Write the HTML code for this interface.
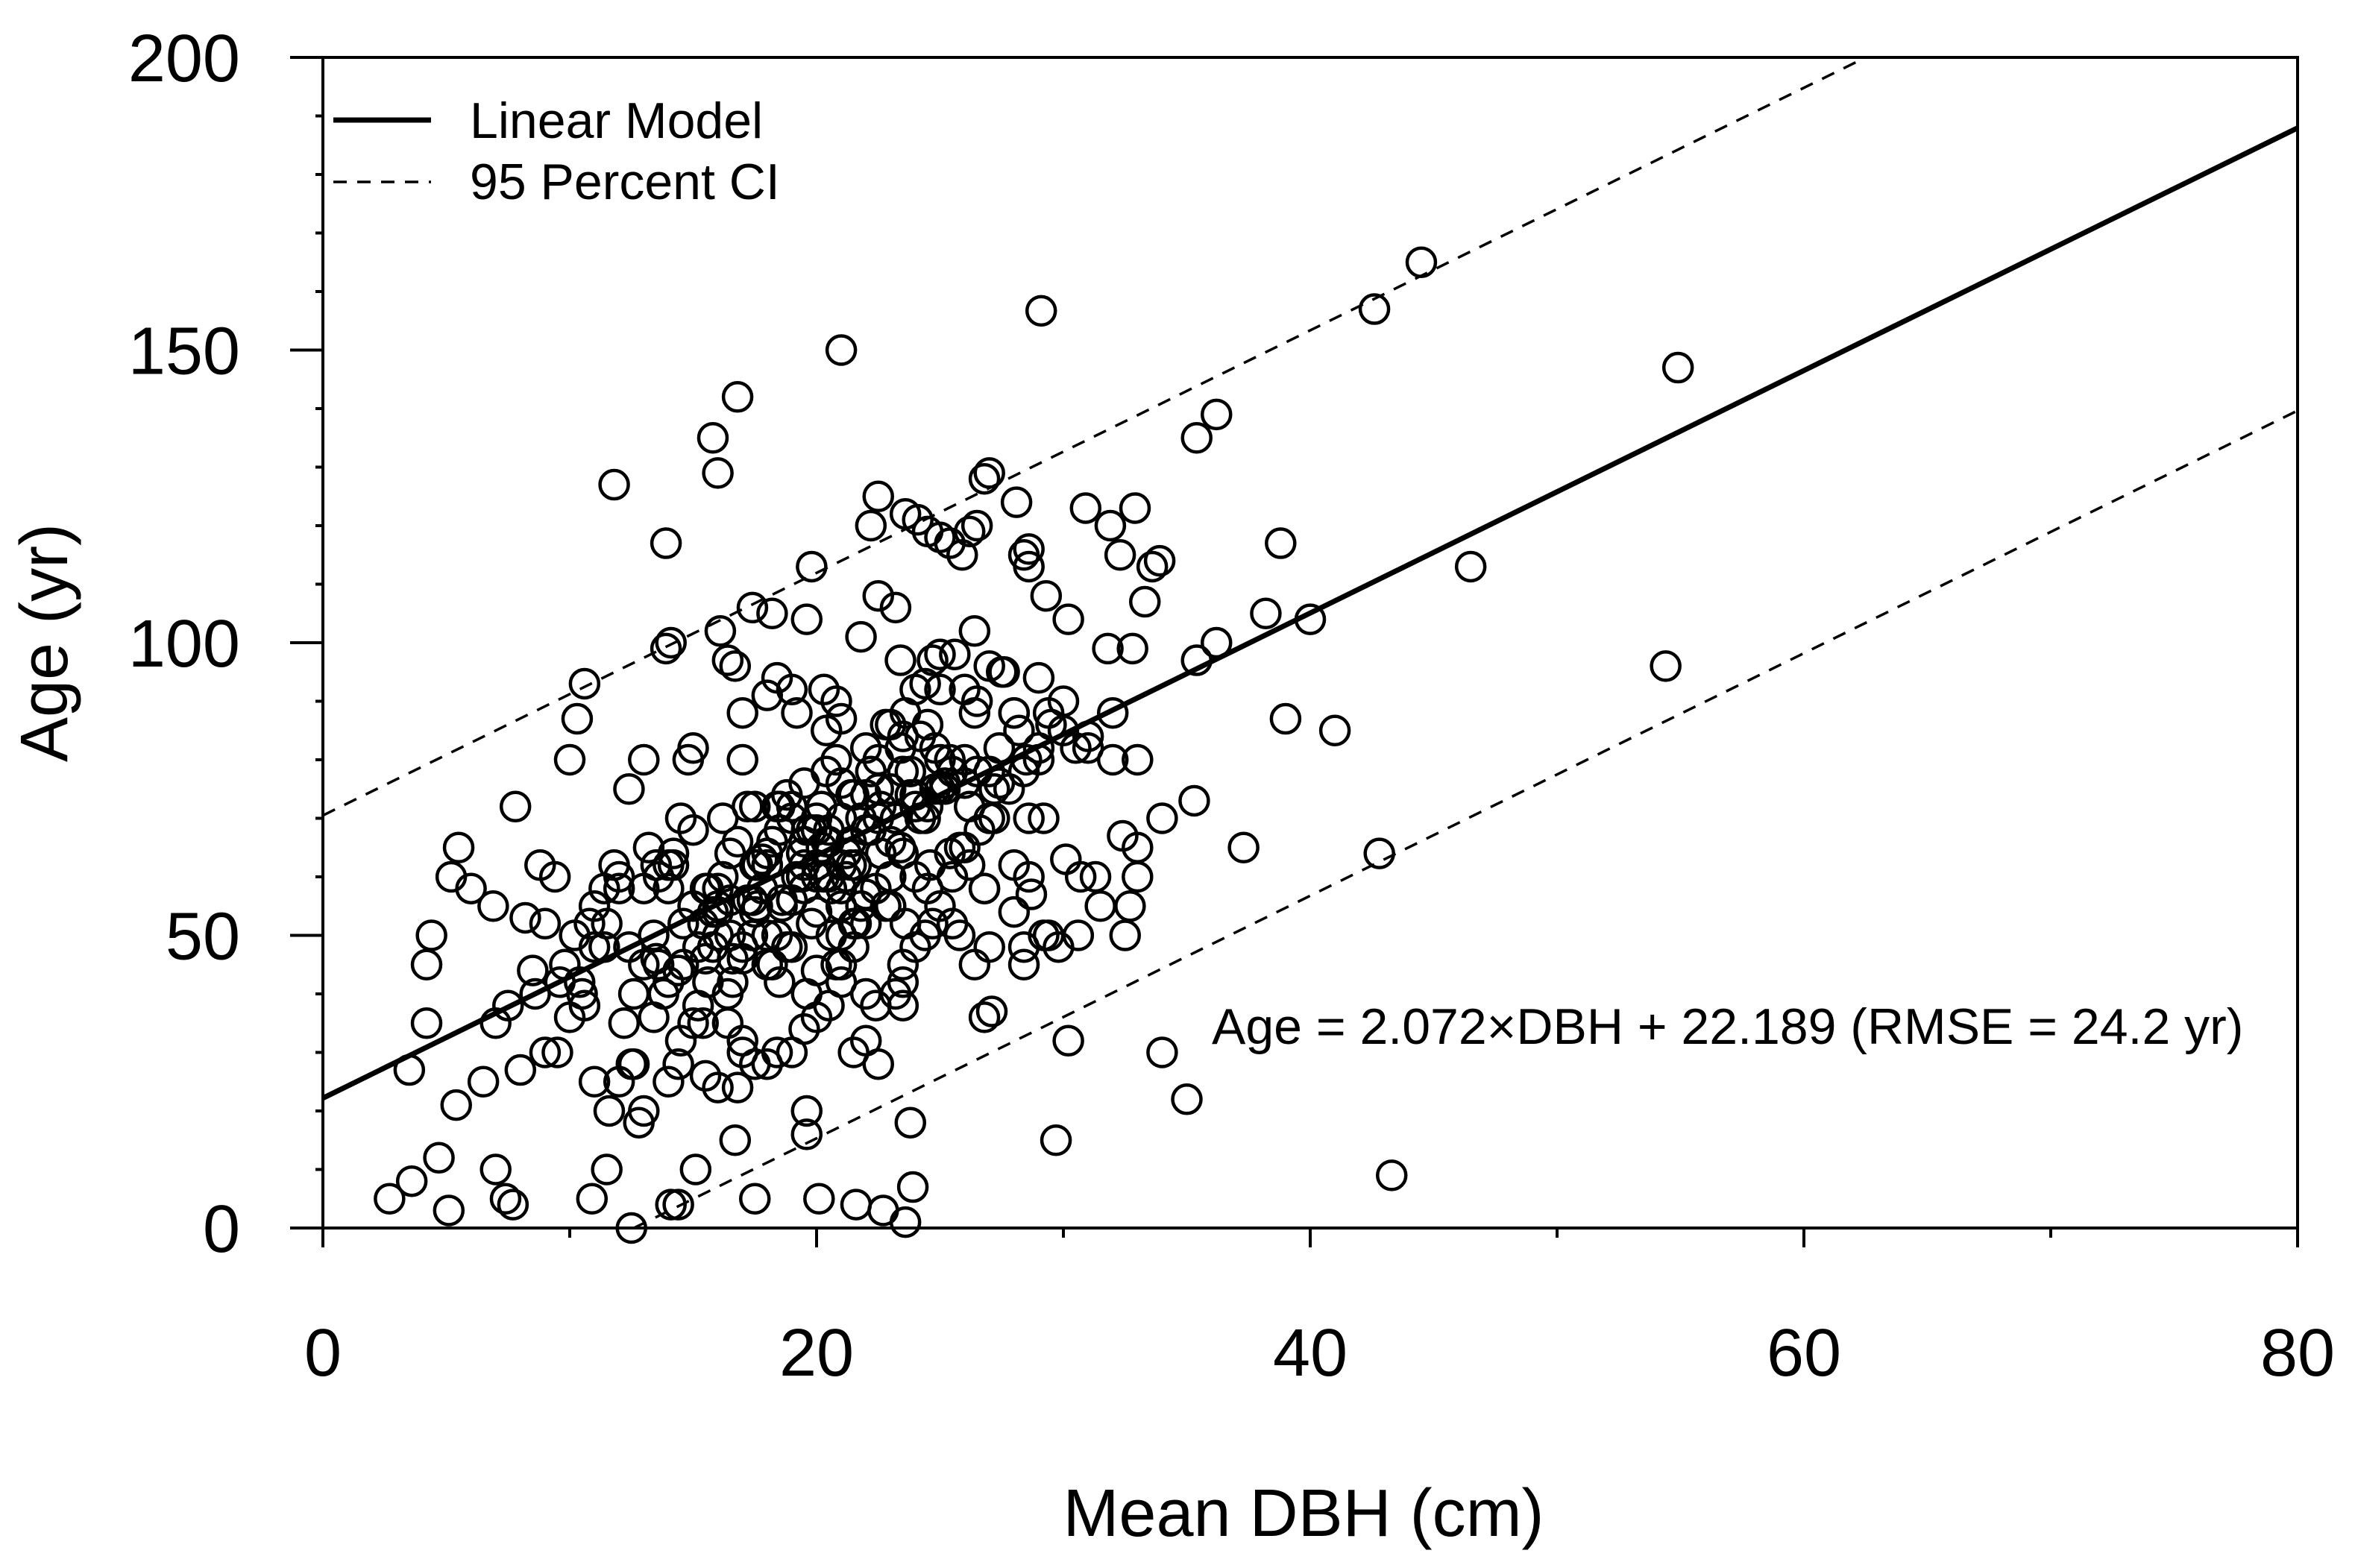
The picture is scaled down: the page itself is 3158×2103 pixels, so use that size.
<!DOCTYPE html>
<html><head><meta charset="utf-8"><style>
html,body{margin:0;padding:0;background:#fff;}
svg{display:block;font-family:"Liberation Sans",Arial,sans-serif;}
</style></head><body>
<svg id="chart" width="3158" height="2103" viewBox="0 0 3158 2103" xmlns="http://www.w3.org/2000/svg">
<rect width="3158" height="2103" fill="#fff"/>
<g id="marks"></g>
<g id="axes"></g>
</svg>
<script>
const dbh = [29.1,44.5,42.6,54.9,21.0,46.5,54.4,40.0,41.0,42.8,43.3,29.7,37.3,38.8,38.2,39.0,36.2,35.4,36.2,35.4,35.3,16.8,15.8,16.0,11.8,13.9,10.6,10.3,10.0,7.8,5.5,2.7,3.6,3.5,5.1,4.7,5.4,4.2,4.2,4.4,5.2,7.0,7.4,7.7,10.9,11.5,12.5,14.1,14.4,17.5,20.1,21.6,22.7,23.6,23.9,23.8,19.6,19.6,15.1,16.7,28.6,28.7,28.4,29.2,30.6,30.1,30.7,31.3,32.7,33.0,32.4,26.8,27.1,24.7,23.2,23.5,26.4,30.9,32.9,32.3,33.6,33.9,33.3,31.9,31.8,32.8,30.2,29.3,28.4,28.6,28.6,28.1,26.8,27.0,22.5,22.2,24.1,23.6,25.0,24.5,25.9,25.4,26.2,26.5,22.5,23.4,23.2,24.7,24.4,19.6,19.8,21.8,18.2,16.1,14.1,13.9,16.4,16.7,17.4,18.4,18.0,20.8,20.3,21.0,21.0,20.3,
6.5,6.9,7.0,8.0,8.2,8.6,9.0,9.4,9.8,10.2,10.6,11.0,11.4,11.8,12.2,12.6,13.0,13.4,13.8,14.2,14.6,15.0,15.4,15.8,16.2,16.6,17.0,17.4,17.8,18.2,18.6,19.0,19.4,19.8,20.2,20.6,21.0,21.4,21.8,22.2,22.6,23.0,23.4,23.8,24.2,24.6,25.0,25.4,25.8,26.2,26.6,27.0,27.4,27.8,28.2,28.6,29.0,29.4,29.8,30.2,
6.0,7.5,8.8,9.6,10.8,11.6,12.4,13.2,14.0,14.8,15.6,16.4,17.2,18.0,18.8,19.6,20.4,21.2,22.0,22.8,23.6,24.4,25.2,26.0,26.8,27.6,28.4,29.2,30.0,31.0,32.0,33.0,34.0,35.0,
12.0,12.8,13.6,14.4,15.2,16.0,16.8,17.6,18.4,19.2,20.0,20.8,21.6,22.4,23.2,24.0,24.8,25.6,26.4,27.2,28.0,
13.0,14.0,15.0,16.0,17.0,18.0,19.0,20.0,21.0,22.0,23.0,24.0,25.0,26.0,27.0,28.0,29.0,30.0,31.0,32.0,33.0,34.0,
17.5,18.5,19.5,20.5,21.5,22.5,23.5,24.5,25.5,26.5,19.0,20.0,21.0,22.0,23.0,24.0,25.0,18.0,19.5,21.5,23.5,
8.5,9.5,10.5,11.5,12.5,13.5,14.5,15.5,16.5,17.5,18.5,19.5,20.5,21.5,22.5,23.5,
9.0,10.0,11.0,12.0,13.0,14.0,15.0,16.0,17.0,18.0,19.0,20.0,21.0,22.0,23.0,
11.0,12.0,13.0,14.0,15.0,16.0,17.0,18.0,19.0,20.0,21.0,22.0,
15.5,16.5,17.5,18.5,19.5,20.5,21.5,22.5,23.5,24.5,25.5,26.5,27.5,28.5,29.5,30.5,31.5,32.5,
13.5,14.5,15.5,16.5,17.5,18.5,19.5,20.5,21.5,22.5,23.5,24.5,25.5,
14.2,15.2,16.2,17.2,18.2,19.2,20.2,21.2,22.2,23.2,24.2,25.2,26.2,27.2,
15.8,16.8,17.8,18.8,19.8,20.8,21.8,22.8,23.8,24.8,25.8,26.8,
17.0,18.0,19.0,20.0,21.0,22.0,23.0,24.0,25.0,26.0,27.0,28.0,
12.6,13.6,14.6,15.6,16.6,17.6,18.6,19.6,20.6,21.6,22.6,23.6,
18.4,19.4,20.4,21.4,22.4,23.4,24.4,25.4,26.4,27.4,28.4,29.4,
10.4,11.4,12.4,13.4,14.4,15.4,16.4,17.4,18.4,19.4,20.4,21.4,
16.0,17.0,18.0,19.0,20.0,21.0,22.0,23.0,24.0,25.0,26.0,27.0,28.0,29.0,30.0,31.0];
const age = [156.7,165,157,147,150,113,96,104,85,64,9,15,65,117,105,87,139,135,100,97,73,142,135,129,127,117,93,87,80,72,65,5,8,27,3,12,21,35,45,50,60,10,5,4,5,10,0,4,4,5,5,4,3,1,7,18,20,16,10,15,60,57,48,50,50,63,60,60,55,60,67,36,37,52,40,42,45,123,123,115,113,114,107,120,99,99,104,108,115,113,116,124,128,129,125,120,121,122,118,119,115,117,119,120,108,97,106,97,93,104,113,101,105,102,100,99,97,96,106,94,91,90,92,87,
42,60,25,55,35,27,53,40,30,60,45,50,38,55,48,62,35,28,58,50,40,62,45,55,35,48,60,42,30,50,63,45,55,48,60,52,65,58,70,62,55,68,72,60,65,78,70,62,75,80,65,72,68,78,82,75,85,70,80,88,
48,32,58,38,62,42,52,20,75,65,25,80,42,35,72,28,48,40,85,60,32,55,88,50,75,92,58,95,78,70,85,82,88,80,
30,22,25,18,45,28,38,50,24,55,30,88,60,45,52,38,70,60,75,98,102,
75,62,80,58,82,55,88,62,92,70,58,82,75,92,98,65,96,88,82,90,84,80,
65,70,72,68,62,66,74,70,64,72,60,78,72,54,50,57,60,48,55,62,58,
48,38,44,30,40,52,28,46,32,26,50,28,42,34,38,30,
28,45,52,36,25,60,20,42,35,24,32,45,30,36,55,
40,55,48,58,45,62,68,54,48,50,56,44,
45,52,58,64,54,72,76,68,74,80,84,86,78,90,95,80,86,82,
55,50,62,70,46,56,62,72,66,60,52,75,78,
58,52,64,48,70,56,66,60,72,64,78,70,84,76,
62,70,54,66,58,74,68,80,70,86,74,82,
50,58,46,64,56,68,62,74,66,72,80,76,
48,54,40,60,52,58,46,62,56,68,50,62,
64,52,72,60,78,66,58,82,70,64,88,76,
45,50,42,58,48,36,44,52,40,56,50,64,
66,74,58,80,64,70,62,76,68,86,74,92,80,70,88,94];

const X0=433, X1=3081, Y0=1647, Y1=77;
const xMax=80, yMax=200;
function sx(v){return X0+(X1-X0)*v/xMax;}
function sy(v){return Y0-(Y0-Y1)*v/yMax;}
const NS="http://www.w3.org/2000/svg";
function mk(tag,attrs,parent){const e=document.createElementNS(NS,tag);for(const k in attrs)e.setAttribute(k,attrs[k]);parent.appendChild(e);return e;}

const marks=document.getElementById('marks');
const axes=document.getElementById('axes');
const n=Math.min(dbh.length,age.length);
for(let i=0;i<n;i++){
  const c=mk('circle',{cx:sx(dbh[i]),cy:sy(age[i]),r:19,fill:'none',stroke:'#000','stroke-width':4.5},marks);
  
  
}
const slope=2.072, icpt=22.189, ci=48.3;
function lineSeg(b,dash,w,name){
  let xa=0, xb=80;
  const xTop=(200-b)/slope; if(xTop<xb) xb=xTop;
  const xBot=(0-b)/slope; if(xBot>xa) xa=xBot;
  const l=mk('line',{x1:sx(xa),y1:sy(slope*xa+b),x2:sx(xb),y2:sy(slope*xb+b),stroke:'#000','stroke-width':w},marks);
  if(dash) l.setAttribute('stroke-dasharray',dash);
  
  
}
lineSeg(icpt,null,7,'linear-model-line');
lineSeg(icpt+ci,'18,14',3.5,'upper-ci-line');
lineSeg(icpt-ci,'18,14',3.5,'lower-ci-line');

const fr=mk('rect',{x:X0,y:Y1,width:X1-X0,height:Y0-Y1,fill:'none',stroke:'#000','stroke-width':4},axes);



const xTicks=[0,20,40,60,80];
const yTicks=[0,50,100,150,200];
for(let v=0;v<=80;v+=10){
  const major=v%20===0;
  const t=mk('line',{x1:sx(v),y1:Y0,x2:sx(v),y2:Y0+(major?26:13),stroke:'#000','stroke-width':4},axes);
  
  
}
for(let v=0;v<=200;v+=10){
  const major=v%50===0;
  const t=mk('line',{x1:X0,y1:sy(v),x2:X0-(major?44:10),y2:sy(v),stroke:'#000','stroke-width':4},axes);
  
  
}
xTicks.forEach(v=>{
  const t=mk('text',{x:sx(v),y:1845,'font-size':90,'text-anchor':'middle'},axes);
  t.textContent=v;
  
  
});
yTicks.forEach(v=>{
  const t=mk('text',{x:322,y:sy(v)+32,'font-size':90,'text-anchor':'end'},axes);
  t.textContent=v;
  
  
});
let t=mk('text',{x:1748,y:2060,'font-size':90,'text-anchor':'middle'},axes);
t.textContent='Mean DBH (cm)';


t=mk('text',{x:0,y:0,'font-size':90,'text-anchor':'middle',transform:'translate(90,862) rotate(-90)'},axes);
t.textContent='Age (yr)';



let l=mk('line',{x1:447,y1:161,x2:578,y2:161,stroke:'#000','stroke-width':7},axes);


l=mk('line',{x1:447,y1:244,x2:578,y2:244,stroke:'#000','stroke-width':3.5,'stroke-dasharray':'18,14'},axes);


t=mk('text',{x:630,y:185,'font-size':68},axes);
t.textContent='Linear Model';


t=mk('text',{x:630,y:267,'font-size':68},axes);
t.textContent='95 Percent CI';


t=mk('text',{x:1625,y:1400,'font-size':68},axes);
t.textContent='Age = 2.072×DBH + 22.189 (RMSE = 24.2 yr)';


</script>
</body></html>
